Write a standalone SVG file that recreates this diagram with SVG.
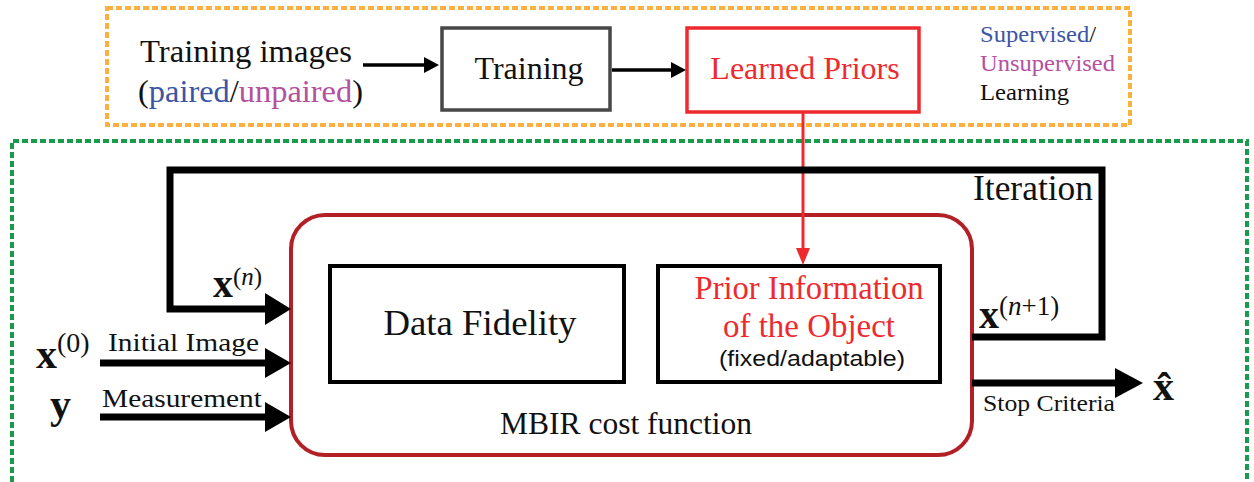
<svg xmlns="http://www.w3.org/2000/svg" width="1254" height="482" viewBox="0 0 1254 482">
<style>
.serif{font-family:"Liberation Serif","Times New Roman",serif;}
.sans{font-family:"Liberation Sans",Arial,sans-serif;}
.blk{fill:#111;}
.thick{stroke:#000;stroke-width:7;fill:none;}
</style>
<rect width="1254" height="482" fill="#fff"/>
<!-- dashed frames -->
<rect x="107" y="8" width="1023" height="117" fill="none" stroke="#fbb040" stroke-width="4" stroke-dasharray="6,3"/>
<path d="M12,482 L12,141 L1247,141 L1247,482" fill="none" stroke="#1a9a4a" stroke-width="4" stroke-dasharray="6,3"/>

<g id="training-images">
<text class="serif blk" x="140" y="62" font-size="32" textLength="212" lengthAdjust="spacingAndGlyphs">Training images</text>
<text class="serif" x="138" y="102" font-size="32" textLength="225" lengthAdjust="spacingAndGlyphs"><tspan fill="#111">(</tspan><tspan fill="#3b55a5">paired</tspan><tspan fill="#111">/</tspan><tspan fill="#b5509f">unpaired</tspan><tspan fill="#111">)</tspan></text>
</g>
<g id="training">
<rect x="442" y="28" width="168" height="82" fill="none" stroke="#474747" stroke-width="3.5"/>
<text class="serif blk" x="529" y="79" font-size="32" text-anchor="middle">Training</text>
</g>
<g id="learned-priors">
<rect x="687" y="28" width="232" height="84" fill="none" stroke="#ee2a2e" stroke-width="3.5"/>
<text class="serif" x="805" y="79" font-size="32" text-anchor="middle" fill="#ee2a2e">Learned Priors</text>
</g>
<g id="learning-type">
<text class="serif" x="980" y="42" font-size="23" fill="#3b55a5" textLength="116" lengthAdjust="spacingAndGlyphs">Supervised<tspan fill="#111">/</tspan></text>
<text class="serif" x="980" y="71" font-size="23" fill="#b5509f" textLength="135" lengthAdjust="spacingAndGlyphs">Unsupervised</text>
<text class="serif blk" x="980" y="100" font-size="23" textLength="89" lengthAdjust="spacingAndGlyphs">Learning</text>
</g>

<g id="mbir">
<rect x="291" y="215" width="681" height="240" rx="34" ry="34" fill="none" stroke="#b22025" stroke-width="4"/>
<text class="serif blk" x="626" y="434" font-size="31" text-anchor="middle" textLength="252" lengthAdjust="spacingAndGlyphs">MBIR cost function</text>
</g>
<g id="data-fidelity">
<rect x="330" y="266" width="294" height="116" fill="none" stroke="#000" stroke-width="4"/>
<text class="serif blk" x="480" y="335" font-size="36" text-anchor="middle" textLength="193" lengthAdjust="spacingAndGlyphs">Data Fidelity</text>
</g>
<g id="prior-info">
<rect x="658" y="266" width="282" height="116" fill="none" stroke="#000" stroke-width="4"/>
<text class="serif" x="809" y="299" font-size="33" text-anchor="middle" fill="#ee2a2e" textLength="229" lengthAdjust="spacingAndGlyphs">Prior Information</text>
<text class="serif" x="809" y="337" font-size="33" text-anchor="middle" fill="#ee2a2e" textLength="172" lengthAdjust="spacingAndGlyphs">of the Object</text>
<text class="sans blk" x="812" y="366" font-size="22" text-anchor="middle" textLength="186" lengthAdjust="spacingAndGlyphs">(fixed/adaptable)</text>
</g>

<g id="labels">
<text class="serif blk" x="1093" y="200" font-size="35" text-anchor="end" textLength="120" lengthAdjust="spacingAndGlyphs">Iteration</text>
<text class="serif blk" x="213" y="297" font-size="40" font-weight="bold">x<tspan dy="-12" font-size="25" font-weight="normal">(<tspan font-style="italic">n</tspan>)</tspan></text>
<text class="serif blk" x="979" y="328" font-size="40" font-weight="bold">x<tspan dy="-13" font-size="27" font-weight="normal">(<tspan font-style="italic">n</tspan>+1)</tspan></text>
<text class="serif blk" x="36" y="368" font-size="42" font-weight="bold">x<tspan dy="-16" font-size="28" font-weight="normal">(0)</tspan></text>
<text class="serif blk" x="108" y="351" font-size="26" textLength="151" lengthAdjust="spacingAndGlyphs">Initial Image</text>
<text class="serif blk" x="50" y="418" font-size="42" font-weight="bold">y</text>
<text class="serif blk" x="102" y="407" font-size="26" textLength="160" lengthAdjust="spacingAndGlyphs">Measurement</text>
<text class="serif blk" x="983" y="411" font-size="23" textLength="132" lengthAdjust="spacingAndGlyphs">Stop Criteria</text>
<text class="serif blk" x="1153" y="400" font-size="42" font-weight="bold">x&#x302;</text>
</g>

<g id="connectors">
<line x1="363" y1="65" x2="426" y2="65" stroke="#000" stroke-width="3.5"/>
<path d="M424,57 L439,65 L424,73 z" fill="#000"/>
<line x1="612" y1="70" x2="673" y2="70" stroke="#000" stroke-width="3.5"/>
<path d="M671,62 L686,70 L671,78 z" fill="#000"/>
<line x1="803" y1="112" x2="803" y2="252" stroke="#ee2a2e" stroke-width="3"/>
<path d="M796,248 L810,248 L803,265 z" fill="#ee2a2e"/>
<!-- iteration loop -->
<path class="thick" d="M972,337 L1102,337 L1102,170 L170,170 L170,309 L268,309"/>
<path d="M265,293 L291,309 L265,325 z" fill="#000"/>
<!-- initial image -->
<line class="thick" x1="100" y1="363" x2="268" y2="363"/>
<path d="M265,348 L291,363 L265,378 z" fill="#000"/>
<!-- measurement -->
<line class="thick" x1="100" y1="417" x2="268" y2="417"/>
<path d="M265,402 L291,417 L265,432 z" fill="#000"/>
<!-- stop criteria -->
<line class="thick" x1="972" y1="383" x2="1118" y2="383"/>
<path d="M1115,368 L1143,383 L1115,398 z" fill="#000"/>
</g>
</svg>
